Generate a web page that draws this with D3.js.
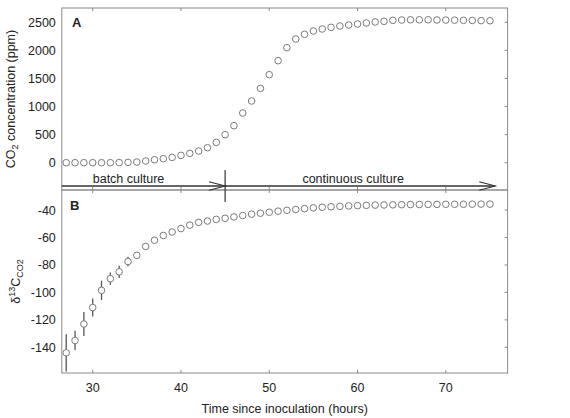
<!DOCTYPE html>
<html>
<head>
<meta charset="utf-8">
<script src="https://cdn.jsdelivr.net/npm/d3@7"></script>
<style>
  body { margin: 0; background: #fff; }
  svg text { font-family: "Liberation Sans", Arial, sans-serif; fill: #222; }
</style>
</head>
<body>
<div id="chart"></div>
<script>
// hours since inoculation
var hours = [27, 28, 29, 30, 31, 32, 33, 34, 35, 36, 37, 38, 39, 40, 41, 42, 43, 44, 45, 46,
  47, 48, 49, 50, 51, 52, 53, 54, 55, 56, 57, 58, 59, 60, 61, 62, 63, 64, 65, 66,
  67, 68, 69, 70, 71, 72, 73, 74, 75];

// panel A: CO2 concentration (ppm)
var co2 = [0, 0, 0, 0, 0, 0, 2, 6, 12, 30, 53, 71, 95, 131, 166, 208, 267, 362, 499, 659,
  885, 1099, 1324, 1568, 1817, 2049, 2203, 2286, 2345, 2381, 2411, 2435, 2452, 2470, 2488, 2506, 2518, 2535, 2541, 2545,
  2545, 2545, 2542, 2540, 2538, 2535, 2533, 2530, 2528];

// panel B: delta 13C of CO2 and its error
var d13c = [-144, -135, -123, -111, -98.5, -90, -85, -77.5, -73, -66.5, -62, -58.5, -56, -53.5, -51, -49, -48, -46.8, -46, -45,
  -44, -43, -42.3, -41.6, -40.8, -40.2, -39.6, -39, -38.4, -38, -37.6, -37.3, -37, -36.8, -36.6, -36.4, -36.3, -36.2, -36.1, -36,
  -36, -35.9, -35.9, -35.8, -35.8, -35.8, -35.7, -35.7, -35.7];
var d13cErr = [13.6, 7, 8.7, 6.5, 7, 4.5, 4.5, 3.5, 2.5, 2, 1.5, 1.5, 1, 1, 1, 1, 1, 1, 1, 1,
  1, 1, 1, 1, 1, 1, 1, 1, 1, 1, 1, 1, 1, 1, 1, 1, 1, 1, 1, 1,
  1, 1, 1, 1, 1, 1, 1, 1, 1];

var xTicks = [30, 40, 50, 60, 70];
var co2Ticks = [0, 500, 1000, 1500, 2000, 2500];
var d13cTicks = [-40, -60, -80, -100, -120, -140];

var switchHour = 45;
var arrowEndHour = 75.6;

var svgWidth = 570, svgHeight = 418;
var left = 61.8, right = 507.6;
var topA = 8, mid = 190, bottomB = 373;

var svg = d3.select('#chart').append('svg')
  .attr('width', svgWidth)
  .attr('height', svgHeight);

var x = d3.scaleLinear().domain([26.5, 77]).range([left, right]);
var yA = d3.scaleLinear().domain([-486, 2755]).range([mid, topA]);
var yB = d3.scaleLinear().domain([-158.7, -25.4]).range([bottomB, mid]);

var frameColor = '#8a8a8a';
var markColor = '#7a7a7a';

// frames
[[topA, mid], [mid, bottomB]].forEach(function(p) {
  svg.append('rect')
    .attr('x', left).attr('y', p[0])
    .attr('width', right - left).attr('height', p[1] - p[0])
    .attr('fill', 'none')
    .attr('stroke', frameColor)
    .attr('stroke-width', 1);
});

// inward x ticks on top, middle and bottom lines
function xTickMarks(yPos, dir) {
  svg.append('g').selectAll('line')
    .data(xTicks).enter().append('line')
    .attr('x1', d => x(d)).attr('x2', d => x(d))
    .attr('y1', yPos).attr('y2', yPos + dir * 3)
    .attr('stroke', frameColor);
}
xTickMarks(topA, 1);
xTickMarks(mid, -1);
xTickMarks(mid, 1);
xTickMarks(bottomB, -1);

// right inward y ticks
svg.append('g').selectAll('line').data(co2Ticks).enter().append('line')
  .attr('x1', right).attr('x2', right - 3)
  .attr('y1', d => yA(d)).attr('y2', d => yA(d))
  .attr('stroke', frameColor);
svg.append('g').selectAll('line').data(d13cTicks).enter().append('line')
  .attr('x1', right).attr('x2', right - 3)
  .attr('y1', d => yB(d)).attr('y2', d => yB(d))
  .attr('stroke', frameColor);

// tick labels
svg.append('g').selectAll('text').data(co2Ticks).enter().append('text')
  .attr('x', left - 6).attr('y', d => yA(d)).attr('dy', '0.36em')
  .attr('text-anchor', 'end').style('font-size', '12.5px')
  .text(d => d);
svg.append('g').selectAll('text').data(d13cTicks).enter().append('text')
  .attr('x', left - 6).attr('y', d => yB(d)).attr('dy', '0.36em')
  .attr('text-anchor', 'end').style('font-size', '12.5px')
  .text(d => d);
svg.append('g').selectAll('text').data(xTicks).enter().append('text')
  .attr('x', d => x(d)).attr('y', bottomB + 19)
  .attr('text-anchor', 'middle').style('font-size', '12.5px')
  .text(d => d);

// axis titles
svg.append('text')
  .attr('x', (left + right) / 2).attr('y', 413)
  .attr('text-anchor', 'middle').style('font-size', '12.5px')
  .text('Time since inoculation (hours)');

var yTitleA = svg.append('text')
  .attr('transform', 'translate(15,' + ((topA + mid) / 2) + ') rotate(-90)')
  .attr('text-anchor', 'middle').style('font-size', '12.5px');
yTitleA.append('tspan').text('CO');
yTitleA.append('tspan').attr('dy', 3).style('font-size', '9px').text('2');
yTitleA.append('tspan').attr('dy', -3).text(' concentration (ppm)');

var yTitleB = svg.append('text')
  .attr('transform', 'translate(20,' + ((mid + bottomB) / 2) + ') rotate(-90)')
  .attr('text-anchor', 'middle').style('font-size', '12.5px');
yTitleB.append('tspan').text('δ');
yTitleB.append('tspan').attr('dy', -5).style('font-size', '9px').text('13');
yTitleB.append('tspan').attr('dy', 5).text('C');
yTitleB.append('tspan').attr('dy', 3).style('font-size', '9px').text('CO2');

// panel letters
svg.append('text').attr('x', 72).attr('y', 27)
  .style('font-size', '13px').style('font-weight', 'bold').text('A');
svg.append('text').attr('x', 70).attr('y', 210)
  .style('font-size', '13px').style('font-weight', 'bold').text('B');

// culture phase arrows
var arrowY = 186;
var arrowColor = '#333';
function arrow(x0, x1, label, labelX) {
  svg.append('line')
    .attr('x1', x0).attr('x2', x1).attr('y1', arrowY).attr('y2', arrowY)
    .attr('stroke', arrowColor).attr('stroke-width', 1.3);
  svg.append('path')
    .attr('d', 'M' + (x1 - 16) + ',' + (arrowY - 4.3) + 'L' + x1 + ',' + arrowY + 'L' + (x1 - 16) + ',' + (arrowY + 4.3))
    .attr('fill', 'none').attr('stroke', arrowColor).attr('stroke-width', 1.1);
  svg.append('text')
    .attr('x', labelX).attr('y', arrowY - 3)
    .attr('text-anchor', 'middle').style('font-size', '12.5px')
    .text(label);
}
arrow(left, x(switchHour), 'batch culture', x(34.06));
arrow(x(switchHour), x(arrowEndHour), 'continuous culture', x(59.5));
svg.append('line')
  .attr('x1', x(switchHour)).attr('x2', x(switchHour))
  .attr('y1', 170).attr('y2', 202)
  .attr('stroke', arrowColor).attr('stroke-width', 1.2);

// panel A points
svg.append('g').selectAll('circle')
  .data(hours).enter().append('circle')
  .attr('cx', d => x(d))
  .attr('cy', (d, i) => yA(co2[i]))
  .attr('r', 3.3)
  .attr('fill', 'white')
  .attr('stroke', markColor).attr('stroke-width', 1);

// panel B error bars and points
svg.append('g').selectAll('line')
  .data(hours).enter().append('line')
  .attr('x1', d => x(d)).attr('x2', d => x(d))
  .attr('y1', (d, i) => yB(d13c[i] - d13cErr[i]))
  .attr('y2', (d, i) => yB(d13c[i] + d13cErr[i]))
  .attr('stroke', '#555').attr('stroke-width', 1.3);

svg.append('g').selectAll('circle')
  .data(hours).enter().append('circle')
  .attr('cx', d => x(d))
  .attr('cy', (d, i) => yB(d13c[i]))
  .attr('r', 3.3)
  .attr('fill', 'white')
  .attr('stroke', markColor).attr('stroke-width', 1);
</script>
</body>
</html>
